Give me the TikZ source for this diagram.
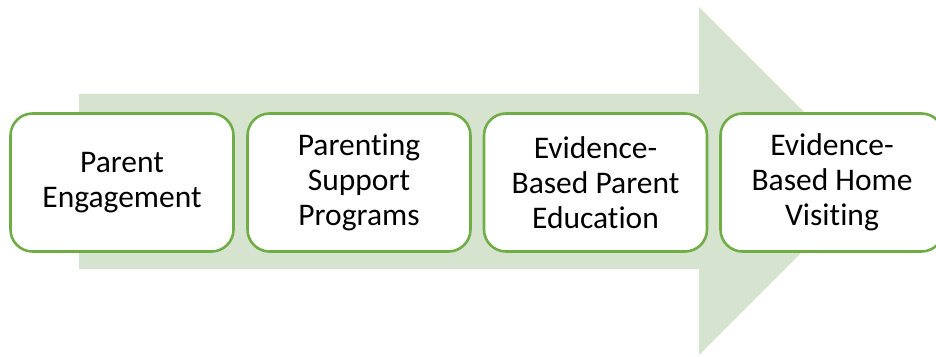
\documentclass[tikz,border=0pt]{standalone}
\usepackage{fontspec}
\setmainfont[Ligatures=NoCommon]{Carlito}
\definecolor{boxgreen}{RGB}{112,173,71}
\definecolor{paleg}{RGB}{214,227,206}
\begin{document}
\begin{tikzpicture}[x=1pt,y=-1pt,
  stage/.style={draw=boxgreen, line width=2.6pt, fill=white, rounded corners=22pt,
    minimum width=223pt, minimum height=138pt, align=center, inner sep=0pt,
    font=\fontsize{31.5}{35}\selectfont, text=black}]
\useasboundingbox (0,0) rectangle (936,356);
\fill[paleg] (79,94) -- (699,94) -- (699,7) -- (873,181) -- (699,355) -- (699,269) -- (79,269) -- cycle;
\node[stage] (a) at (122,182.5) {Parent\\Engagement};
\node[stage] (b) at (359,182.5) {Parenting\\Support\\Programs};
\node[stage] (c) at (595.5,182.5) {Evidence-\\Based Parent\\Education};
\node[stage] (d) at (832,182.5) {Evidence-\\Based Home\\Visiting};
\end{tikzpicture}
\end{document}
